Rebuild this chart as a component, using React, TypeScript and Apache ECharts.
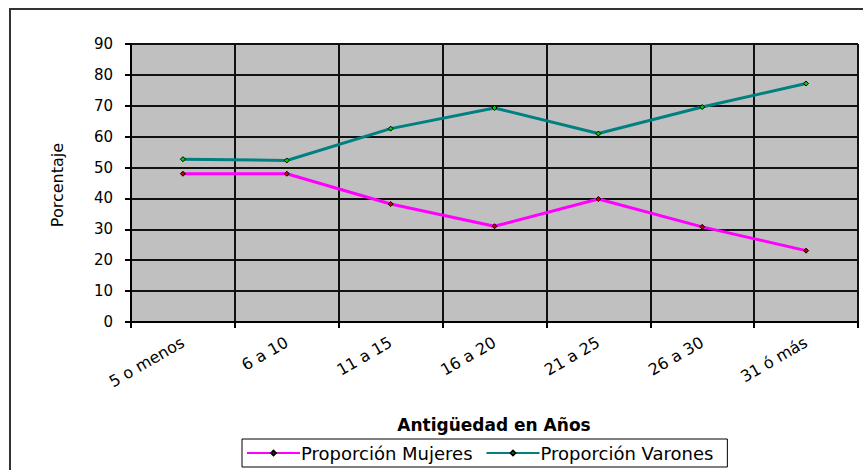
import React, { useEffect, useRef } from "react";
import * as echarts from "echarts";

const categories = ["5 o menos", "6 a 10", "11 a 15", "16 a 20", "21 a 25", "26 a 30", "31 ó más"];
const mujeres = [48, 48, 38.2, 31, 39.8, 30.8, 23.1];
const varones = [52.7, 52.3, 62.6, 69.3, 61, 69.6, 77.2];
const seriesNames = ["Proporción Mujeres", "Proporción Varones"];
const xTitle = "Antigüedad en Años";
const yTitle = "Porcentaje";

const FONT = "DejaVu Sans";

export default function App() {
  const ref = useRef<HTMLDivElement>(null);
  useEffect(() => {
    if (!ref.current) return;
    const chart = echarts.init(ref.current, null, { renderer: "svg" });
    chart.setOption({
      animation: false,
      backgroundColor: "#ffffff",
      textStyle: { fontFamily: FONT, color: "#000" },
      grid: {
        left: 131,
        right: 5,
        top: 44,
        bottom: 148,
        show: true,
        backgroundColor: "#c0c0c0",
        borderColor: "#a0a0a0",
        borderWidth: 1,
      },
      legend: {
        left: 242,
        top: 439,
        data: seriesNames,
        itemWidth: 53,
        itemHeight: 6,
        itemGap: 13,
        padding: [5, 14, 5, 4],
        borderColor: "#000",
        borderWidth: 1,
        textStyle: { fontFamily: FONT, fontSize: 18, color: "#000", padding: [0, 0, 0, -4] },
      },
      xAxis: {
        type: "category",
        data: categories,
        boundaryGap: true,
        axisLine: { show: true, lineStyle: { color: "#000", width: 2 } },
        axisTick: { show: true, length: 6, lineStyle: { color: "#000", width: 2 } },
        splitLine: { show: true, interval: 0, lineStyle: { color: "#111", width: 2 } },
        axisLabel: {
          interval: 0,
          rotate: 30,
          margin: 19,
          fontFamily: FONT,
          fontSize: 16,
          color: "#000",
        },
      },
      yAxis: {
        type: "value",
        min: 0,
        max: 90,
        interval: 10,
        axisLine: { show: true, lineStyle: { color: "#000", width: 2 } },
        axisTick: { show: true, length: 6, lineStyle: { color: "#000", width: 2 } },
        splitLine: { show: true, lineStyle: { color: "#111", width: 2 } },
        axisLabel: { margin: 18, fontFamily: FONT, fontSize: 15, color: "#000" },
      },
      graphic: [
        {
          type: "rect",
          shape: { x: 10, y: 9, width: 900, height: 500 },
          style: { fill: "none", stroke: "#333", lineWidth: 2 },
          z: -10,
        },
        {
          type: "text",
          x: 494,
          y: 425,
          style: {
            text: xTitle,
            fontFamily: FONT,
            fontSize: 17,
            fontWeight: "bold",
            fill: "#000",
            align: "center",
            verticalAlign: "middle",
          },
        },
        {
          type: "text",
          x: 57,
          y: 185,
          rotation: Math.PI / 2,
          style: {
            text: yTitle,
            fontFamily: FONT,
            fontSize: 16,
            fill: "#000",
            align: "center",
            verticalAlign: "middle",
          },
        },
      ],
      series: [
        {
          name: seriesNames[0],
          type: "line",
          data: mujeres,
          symbol: "diamond",
          symbolSize: 5,
          lineStyle: { color: "#ff00ff", width: 3 },
          itemStyle: { color: "#c00000", borderColor: "#000", borderWidth: 1 },
          z: 3,
        },
        {
          name: seriesNames[1],
          type: "line",
          data: varones,
          symbol: "diamond",
          symbolSize: 5,
          lineStyle: { color: "#008080", width: 3 },
          itemStyle: { color: "#00cc00", borderColor: "#000", borderWidth: 1 },
          z: 3,
        },
      ],
    });
    return () => chart.dispose();
  }, []);
  return (
    <div
      ref={ref}
      style={{ position: "fixed", left: 0, top: 0, width: 863, height: 470 }}
    />
  );
}
